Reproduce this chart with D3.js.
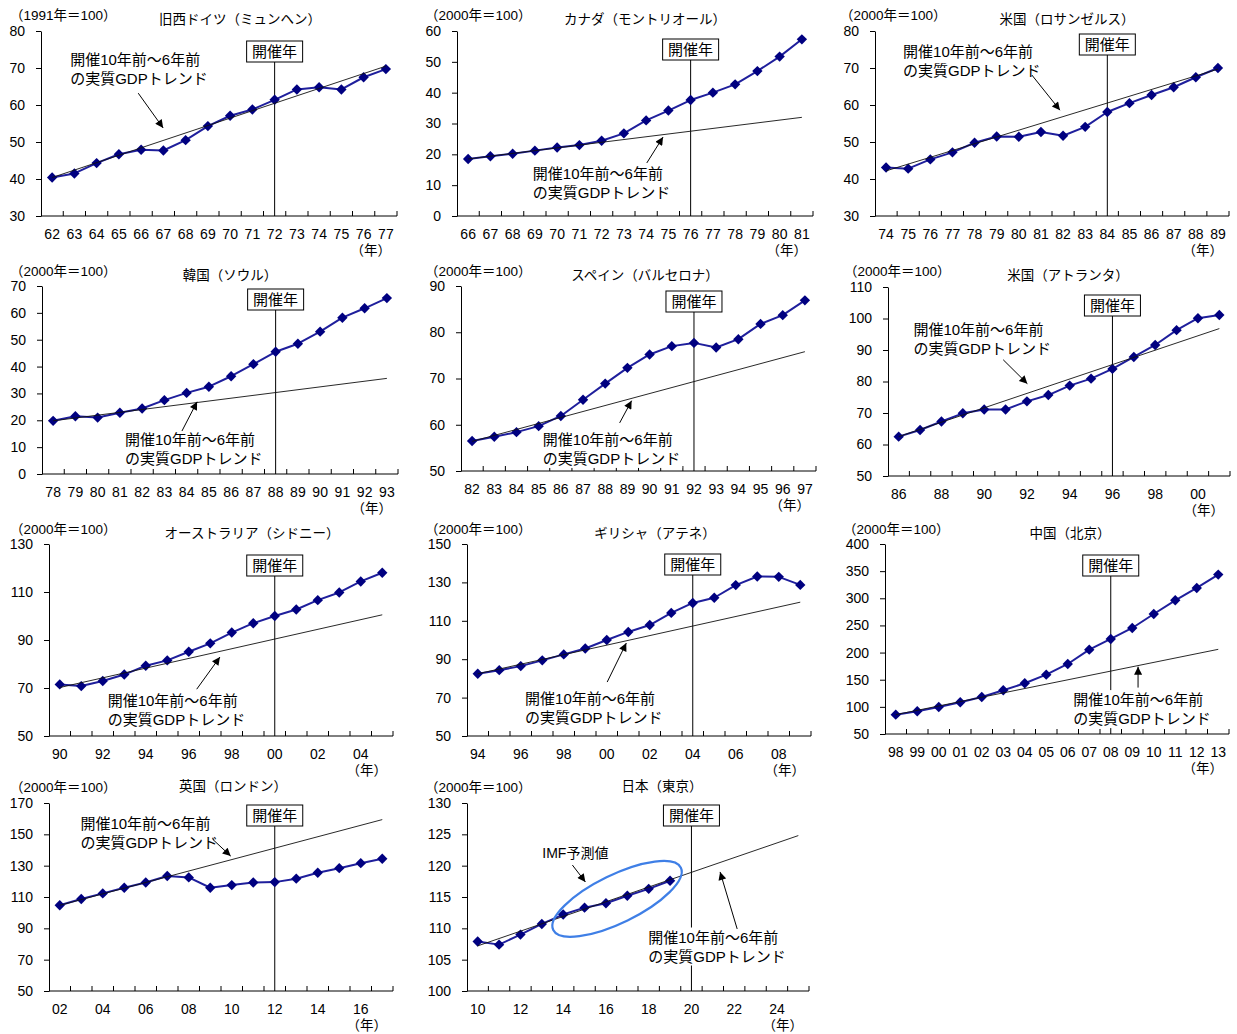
<!DOCTYPE html>
<html>
<head>
<meta charset="utf-8">
<script src="https://cdn.jsdelivr.net/npm/d3@7"></script>
<style>
  body { margin: 0; background: #fff; }
  svg { display: block; font-family: "Liberation Sans", "Noto Sans CJK JP", sans-serif; }
</style>
</head>
<body>
<svg id="chart" width="1237" height="1034"></svg>
<script>
// ---- Real GDP index around each Olympic host year ----
// Each series: category labels (years), GDP index values, and the
// 10-to-6-years-before trend line given by its first and last values.

const munichYears = ["62","63","64","65","66","67","68","69","70","71","72","73","74","75","76","77"];
const munichGDP   = [40.4, 41.5, 44.3, 46.7, 47.9, 47.7, 50.5, 54.3, 57.1, 58.8, 61.4, 64.2, 64.8, 64.2, 67.5, 69.7];
const munichTrend = [40.4, 70.5];

const montrealYears = ["66","67","68","69","70","71","72","73","74","75","76","77","78","79","80","81"];
const montrealGDP   = [18.5, 19.4, 20.2, 21.2, 22.2, 23.0, 24.4, 26.8, 31.0, 34.2, 37.6, 40.0, 42.7, 47.0, 51.7, 57.3];
const montrealTrend = [18.5, 32.0];

const losAngelesYears = ["74","75","76","77","78","79","80","81","82","83","84","85","86","87","88","89"];
const losAngelesGDP   = [43.1, 42.8, 45.3, 47.2, 49.8, 51.5, 51.4, 52.7, 51.7, 54.1, 58.1, 60.5, 62.7, 64.8, 67.5, 70.0];
const losAngelesTrend = [42.2, 69.7];

const seoulYears = ["78","79","80","81","82","83","84","85","86","87","88","89","90","91","92","93"];
const seoulGDP   = [19.8, 21.5, 21.0, 22.8, 24.4, 27.5, 30.2, 32.5, 36.4, 40.9, 45.5, 48.5, 53.0, 58.2, 61.7, 65.5];
const seoulTrend = [19.8, 35.6];

const barcelonaYears = ["82","83","84","85","86","87","88","89","90","91","92","93","94","95","96","97"];
const barcelonaGDP   = [56.5, 57.4, 58.4, 59.7, 61.9, 65.4, 68.9, 72.3, 75.2, 77.0, 77.7, 76.7, 78.5, 81.8, 83.7, 86.9];
const barcelonaTrend = [56.4, 75.8];

const atlantaYears = ["86","87","88","89","90","91","92","93","94","95","96","97","98","99","00","01"];
const atlantaGDP   = [62.5, 64.6, 67.3, 69.9, 71.1, 71.1, 73.7, 75.7, 78.7, 80.9, 84.0, 87.8, 91.6, 96.3, 100.1, 101.1];
const atlantaTrend = [62.5, 96.8];

const sydneyYears = ["90","91","92","93","94","95","96","97","98","99","00","01","02","03","04","05"];
const sydneyGDP   = [71.5, 70.8, 72.9, 75.6, 79.3, 81.5, 85.1, 88.6, 93.1, 97.0, 100.0, 102.7, 106.6, 109.8, 114.4, 118.0];
const sydneyTrend = [70.2, 100.5];

const athensYears = ["94","95","96","97","98","99","00","01","02","03","04","05","06","07","08","09"];
const athensGDP   = [82.4, 84.3, 86.4, 89.4, 92.5, 95.6, 100.0, 104.2, 107.8, 114.1, 119.3, 122.0, 128.6, 133.1, 132.9, 128.7];
const athensTrend = [82.4, 119.7];

const beijingYears = ["98","99","00","01","02","03","04","05","06","07","08","09","10","11","12","13"];
const beijingGDP   = [85.6, 91.8, 99.8, 108.4, 118.2, 130.5, 143.4, 159.3, 179.0, 205.4, 225.1, 245.3, 271.1, 296.3, 319.0, 343.6];
const beijingTrend = [85.6, 206.0];

const londonYears = ["02","03","04","05","06","07","08","09","10","11","12","13","14","15","16","17"];
const londonGDP   = [104.7, 108.7, 112.3, 115.9, 119.3, 123.4, 122.5, 115.9, 117.6, 119.3, 119.5, 121.7, 125.5, 128.4, 131.6, 134.4];
const londonTrend = [104.7, 159.4];

const tokyoYears = ["10","11","12","13","14","15","16","17","18","19","20","21","22","23","24","25"];
const tokyoGDP   = [107.9, 107.4, 109.0, 110.7, 112.2, 113.3, 114.0, 115.2, 116.3, 117.6]; // 14-19: IMF forecast
const tokyoTrend = [107.2, 124.8];

const noteLines = ["開催10年前～6年前", "の実質GDPトレンド"];
const hostLabel = "開催年";
const yearUnit  = "（年）";

// ---- Panel layout: frame = [left, right, top, bottom] of the plot area ----
const panels = [
  { title: "旧西ドイツ（ミュンヘン）", unit: "（1991年＝100）", years: munichYears, values: munichGDP, trend: munichTrend,
    host: "72", yDomain: [30, 80], yStep: 10, every: 1, frame: [41, 397, 31, 216],
    titleXY: [240, 19], unitXY: [10, 15], boxOffset: 10,
    note: { at: [0.81, 72.4], arrow: [[3.87, 63.2], [4.99, 53.8]] } },
  { title: "カナダ（モントリオール）", unit: "（2000年＝100）", years: montrealYears, values: montrealGDP, trend: montrealTrend,
    host: "76", yDomain: [0, 60], yStep: 10, every: 1, frame: [457, 813, 31, 216],
    titleXY: [645, 19], unitXY: [425, 15], boxOffset: 8,
    note: { at: [2.91, 13.9], arrow: [[8.03, 17.2], [8.76, 25.6]] } },
  { title: "米国（ロサンゼルス）", unit: "（2000年＝100）", years: losAngelesYears, values: losAngelesGDP, trend: losAngelesTrend,
    host: "84", yDomain: [30, 80], yStep: 10, every: 1, frame: [875, 1229, 31, 216],
    titleXY: [1067, 19], unitXY: [840, 15], boxOffset: 3,
    note: { at: [0.77, 74.3], arrow: [[6.59, 68.1], [7.86, 58.6]] } },
  { title: "韓国（ソウル）", unit: "（2000年＝100）", years: seoulYears, values: seoulGDP, trend: seoulTrend,
    host: "88", yDomain: [0, 70], yStep: 10, every: 1, frame: [42, 398, 286, 474],
    titleXY: [230, 275], unitXY: [10, 271], boxOffset: 3,
    note: { at: [3.23, 12.7], arrow: [[5.79, 16.0], [6.47, 26.9]] } },
  { title: "スペイン（バルセロナ）", unit: "（2000年＝100）", years: barcelonaYears, values: barcelonaGDP, trend: barcelonaTrend,
    host: "92", yDomain: [50, 90], yStep: 10, every: 1, frame: [461, 816, 286, 471],
    titleXY: [645, 275], unitXY: [425, 271], boxOffset: 5,
    note: { at: [3.18, 56.8], arrow: [[6.65, 60.4], [7.19, 65.2]] } },
  { title: "米国（アトランタ）", unit: "（2000年＝100）", years: atlantaYears, values: atlantaGDP, trend: atlantaTrend,
    host: "96", yDomain: [50, 110], yStep: 10, every: 2, frame: [888, 1230, 287, 476],
    titleXY: [1068, 275], unitXY: [844, 271], boxOffset: 8,
    note: { at: [0.69, 96.4], arrow: [[4.89, 86.9], [6.02, 79.3]] } },
  { title: "オーストラリア（シドニー）", unit: "（2000年＝100）", years: sydneyYears, values: sydneyGDP, trend: sydneyTrend,
    host: "00", yDomain: [50, 130], yStep: 20, every: 2, frame: [49, 393, 544, 736],
    titleXY: [252, 533], unitXY: [10, 529], boxOffset: 11,
    note: { at: [2.23, 64.9], arrow: [[6.37, 69.5], [7.45, 82.9]] } },
  { title: "ギリシャ（アテネ）", unit: "（2000年＝100）", years: athensYears, values: athensGDP, trend: athensTrend,
    host: "04", yDomain: [50, 150], yStep: 20, every: 2, frame: [467, 811, 544, 736],
    titleXY: [655, 533], unitXY: [425, 529], boxOffset: 10,
    note: { at: [2.2, 69.7], arrow: [[6.02, 78.1], [6.91, 98.4]] } },
  { title: "中国（北京）", unit: "（2000年＝100）", years: beijingYears, values: beijingGDP, trend: beijingTrend,
    host: "08", yDomain: [50, 400], yStep: 50, every: 1, frame: [885, 1229, 544, 734],
    titleXY: [1070, 533], unitXY: [843, 529], boxOffset: 11,
    note: { at: [8.25, 113.2], arrow: [[11.27, 135.5], [11.27, 174]] } },
  { title: "英国（ロンドン）", unit: "（2000年＝100）", years: londonYears, values: londonGDP, trend: londonTrend,
    host: "12", yDomain: [50, 170], yStep: 20, every: 2, frame: [49, 393, 803, 991],
    titleXY: [233, 786], unitXY: [10, 787], boxOffset: 2,
    note: { at: [0.96, 157.1], arrow: [[7.11, 146.9], [7.95, 136.1]] } },
  { title: "日本（東京）", unit: "（2000年＝100）", years: tokyoYears, values: tokyoGDP, trend: tokyoTrend,
    host: "20", yDomain: [100, 130], yStep: 5, every: 2, frame: [467, 809, 803, 991],
    titleXY: [662, 786], unitXY: [425, 787], boxOffset: 2,
    note: { at: [7.98, 108.6], arrow: [[12.14, 109.9], [11.34, 119.0]] },
    forecast: { label: "IMF予測値", at: [4.57, 122.0], arrow: [[4.43, 120.1], [5.04, 117.4]],
                ellipse: { center: [6.52, 114.7], rx: 71, ry: 24, angle: -26 } } }
];

const LINE_COLOR = "#1f1f9c";
const MARKER_COLOR = "#000080";
const TICK_FONT = 14;
const LABEL_FONT = 13.5;

const svg = d3.select("#chart");

svg.append("defs").append("marker")
  .attr("id", "arrowhead")
  .attr("viewBox", "0 0 10 10")
  .attr("refX", 10).attr("refY", 5)
  .attr("markerWidth", 10).attr("markerHeight", 8)
  .attr("markerUnits", "userSpaceOnUse")
  .attr("orient", "auto")
  .append("path").attr("d", "M0,0 L10,5 L0,10 Z").attr("fill", "#000");

panels.forEach(p => {
  const [x0, x1, yT, yB] = p.frame;
  const g = svg.append("g");

  const x = d3.scaleBand().domain(p.years).range([x0, x1]).padding(0);
  const bw = x.bandwidth();
  const xc = d => x(d) + bw / 2;
  // fractional category position (for annotation anchors)
  const xi = d3.scaleLinear().domain([0, p.years.length - 1]).range([xc(p.years[0]), xc(p.years[p.years.length - 1])]);
  const y = d3.scaleLinear().domain(p.yDomain).range([yB, yT]);

  // y axis
  const yAxis = g.append("g")
    .attr("transform", `translate(${x0},0)`)
    .call(d3.axisLeft(y)
      .tickValues(d3.range(p.yDomain[0], p.yDomain[1] + p.yStep / 2, p.yStep))
      .tickSize(5).tickSizeOuter(0).tickPadding(11)
      .tickFormat(d3.format("d")));
  yAxis.attr("font-family", null).attr("font-size", TICK_FONT);
  yAxis.selectAll("path, line").attr("stroke", "#000");
  yAxis.selectAll("text").attr("fill", "#000");

  // x axis: baseline, inward boundary ticks and year labels
  g.append("line").attr("x1", x0).attr("x2", x1).attr("y1", yB).attr("y2", yB).attr("stroke", "#000");
  g.selectAll("line.bound").data(d3.range(1, p.years.length + 1)).join("line")
    .attr("class", "bound")
    .attr("x1", k => x0 + k * bw).attr("x2", k => x0 + k * bw)
    .attr("y1", yB).attr("y2", yB - 5).attr("stroke", "#000");
  const xAxis = g.append("g")
    .attr("transform", `translate(0,${yB})`)
    .call(d3.axisBottom(x)
      .tickValues(p.years.filter((d, i) => i % p.every === 0))
      .tickSize(0).tickPadding(13));
  xAxis.attr("font-family", null).attr("font-size", TICK_FONT);
  xAxis.select(".domain").remove();
  xAxis.selectAll("text").attr("fill", "#000");

  g.append("text").attr("x", x1 - 6).attr("y", yB + 39)
    .attr("text-anchor", "end").attr("font-size", LABEL_FONT).text(yearUnit);

  // titles
  g.append("text").attr("x", p.titleXY[0]).attr("y", p.titleXY[1]).attr("dy", "0.35em")
    .attr("text-anchor", "middle").attr("font-size", LABEL_FONT).text(p.title);
  g.append("text").attr("x", p.unitXY[0]).attr("y", p.unitXY[1]).attr("dy", "0.35em")
    .attr("font-size", LABEL_FONT).text(p.unit);

  // host year marker
  const hx = xc(p.host);
  const boxTop = yT + p.boxOffset, boxH = 21, boxW = 56;
  g.append("line").attr("x1", hx).attr("x2", hx).attr("y1", boxTop + boxH).attr("y2", yB)
    .attr("stroke", "#000").attr("stroke-width", 1);
  g.append("rect").attr("x", hx - boxW / 2).attr("y", boxTop).attr("width", boxW).attr("height", boxH)
    .attr("fill", "#fff").attr("stroke", "#000");
  g.append("text").attr("x", hx).attr("y", boxTop + boxH / 2).attr("dy", "0.36em")
    .attr("text-anchor", "middle").attr("font-size", 15).text(hostLabel);

  // GDP series
  const line = d3.line().x((d, i) => xc(p.years[i])).y(d => y(d));
  g.append("path").datum(p.values).attr("d", line)
    .attr("fill", "none").attr("stroke", LINE_COLOR).attr("stroke-width", 2).attr("stroke-linejoin", "round");
  g.selectAll("path.pt").data(p.values).join("path")
    .attr("class", "pt")
    .attr("d", d3.symbol(d3.symbolSquare, 54))
    .attr("transform", (d, i) => `translate(${xc(p.years[i])},${y(d)}) rotate(45)`)
    .attr("fill", MARKER_COLOR);

  // trend line across the whole window
  const n = p.years.length;
  g.append("path").datum([[0, p.trend[0]], [n - 1, p.trend[1]]])
    .attr("d", d3.line().x(d => xi(d[0])).y(d => y(d[1])))
    .attr("fill", "none").attr("stroke", "#111").attr("stroke-width", 0.9);

  // annotation text box (white fill hides lines behind it)
  const noteBg = g.append("rect").attr("fill", "#fff");
  const note = g.append("text").attr("font-size", 15)
    .attr("x", xi(p.note.at[0])).attr("y", y(p.note.at[1]));
  noteLines.forEach((t, i) => {
    note.append("tspan").attr("x", xi(p.note.at[0])).attr("dy", i === 0 ? "0.36em" : "19px").text(t);
  });
  const bb = note.node().getBBox();
  noteBg.attr("x", bb.x - 2).attr("y", bb.y - 1).attr("width", bb.width + 4).attr("height", bb.height + 2);

  const [a0, a1] = p.note.arrow;
  g.append("line")
    .attr("x1", xi(a0[0])).attr("y1", y(a0[1])).attr("x2", xi(a1[0])).attr("y2", y(a1[1]))
    .attr("stroke", "#000").attr("stroke-width", 1).attr("marker-end", "url(#arrowhead)");

  if (p.forecast) {
    const f = p.forecast;
    const e = f.ellipse;
    const cx = xi(e.center[0]), cy = y(e.center[1]);
    g.append("ellipse").attr("cx", cx).attr("cy", cy).attr("rx", e.rx).attr("ry", e.ry)
      .attr("transform", `rotate(${e.angle},${cx},${cy})`)
      .attr("fill", "none").attr("stroke", "#3f7fe6").attr("stroke-width", 2.2);
    g.append("text").attr("x", xi(f.at[0])).attr("y", y(f.at[1])).attr("dy", "0.36em")
      .attr("text-anchor", "middle").attr("font-size", 14).text(f.label);
    g.append("line")
      .attr("x1", xi(f.arrow[0][0])).attr("y1", y(f.arrow[0][1]))
      .attr("x2", xi(f.arrow[1][0])).attr("y2", y(f.arrow[1][1]))
      .attr("stroke", "#000").attr("stroke-width", 1).attr("marker-end", "url(#arrowhead)");
  }
});
</script>
</body>
</html>
